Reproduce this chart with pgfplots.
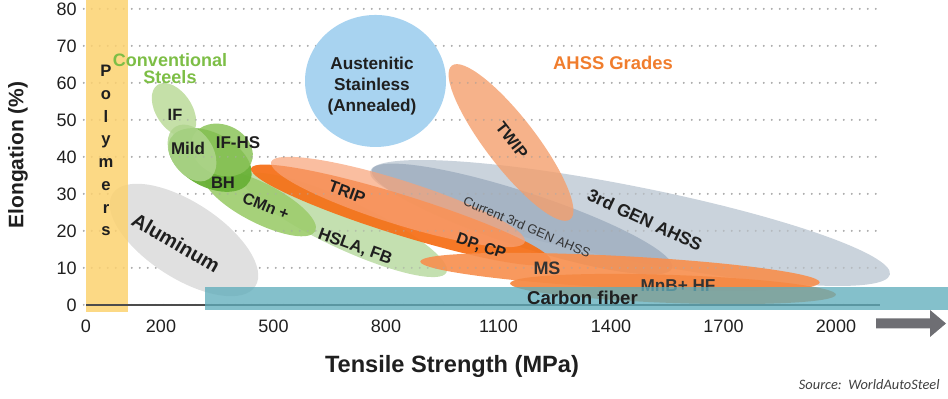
\documentclass[border=0pt]{standalone}
\usepackage{pgfplots}
\pgfplotsset{compat=1.18}
\usepackage{fontspec}
\setmainfont{Liberation Sans}
\newfontfamily\srcfont{Carlito}
\definecolor{polyc}{HTML}{FCD270}
\definecolor{alumc}{HTML}{E0E0E0}
\definecolor{austc}{HTML}{A8D3F0}
\definecolor{genc}{HTML}{C4CED8}
\definecolor{curc}{HTML}{A2B1C2}
\definecolor{twipc}{HTML}{F49F6D}
\definecolor{hslac}{HTML}{BEDDA7}
\definecolor{cmnc}{HTML}{9ECD6F}
\definecolor{ifc}{HTML}{C0DDA1}
\definecolor{bhc}{HTML}{6AB238}
\definecolor{ifhsc}{HTML}{8CC45A}
\definecolor{mildc}{HTML}{B0D68E}
\definecolor{dpc}{HTML}{F5711A}
\definecolor{tripc}{HTML}{F8A277}
\definecolor{msc}{HTML}{F79050}
\definecolor{mnbc}{HTML}{F58A45}
\definecolor{carbc}{HTML}{5FADBB}
\definecolor{convc}{HTML}{7DBE46}
\definecolor{ahssc}{HTML}{F07D2D}
\definecolor{arrowc}{HTML}{6E6E73}
\definecolor{txtc}{HTML}{1F1F1F}
\newcommand\region[7]{\fill[#6, fill opacity=#7, rotate around={#5:(axis cs:#1,#2)}] (axis cs:#1,#2) ellipse [x radius=#3pt, y radius=#4pt];}
\begin{document}
\begin{tikzpicture}
\path[use as bounding box] (0,0) rectangle (474pt,199.5pt);
\begin{axis}[
  at={(41.875pt,43.115pt)}, anchor=south west,
  scale only axis, width=398.625pt, height=156.325pt,
  xmin=-6, xmax=2120, ymin=-2.1, ymax=82.4,
  axis line style={draw=none},
  major tick length=0pt,
  xtick={0,200,500,800,1100,1400,1700,2000},
  xticklabels={0,200,500,800,1100,1400,1700,2000},
  ytick={0,10,20,30,40,50,60,70,80},
  yticklabels={0,10,20,30,40,50,60,70,80},
  tick label style={font=\fontsize{9}{10}\selectfont, text=txtc},
  ymajorgrids,
  major grid style={draw=black!33, line width=1pt, dash pattern=on 0pt off 4pt, line cap=round},
  clip=false,
]
% 3rd GEN AHSS
\region{1450.67}{22.16}{132.5}{18.5}{-11.2}{genc}{0.9}
% Current 3rd GEN
\region{1162.67}{23.24}{79}{13.5}{-18.1}{curc}{0.9}
% TWIP
\region{1133.33}{43.92}{48.5}{12.5}{-52.4}{twipc}{0.8}
% HSLA, FB
\region{690.67}{21.62}{56}{12}{-25}{hslac}{0.9}
% CMn
\region{464}{27.57}{31}{10}{-27}{cmnc}{0.92}
% IF
\region{234.67}{52.70}{15}{9}{-57}{ifc}{0.92}
% BH
\region{330.67}{39.19}{22.5}{13.5}{-28}{bhc}{0.97}
% IF-HS
\region{362.67}{41.89}{16}{12.5}{-25}{ifhsc}{0.85}
% Mild
\region{282.67}{41.08}{15.5}{10.5}{-57}{mildc}{0.85}
% DP, CP
\region{840}{24.32}{78.5}{10}{-17.3}{dpc}{0.95}
% TRIP
\region{832}{27.84}{66.5}{11}{-17.5}{tripc}{0.7}
% MS
\region{1424}{8.92}{100}{8}{-3}{msc}{0.92}
% MnB+ HF
\region{1565.33}{4.32}{81.5}{7}{-2}{mnbc}{0.95}
% grid dots showing through the translucent regions
\pgfplotsinvokeforeach{10,20,30,40,50,60,70,80}{
  \draw[black!33, line width=1pt, dash pattern=on 0pt off 4pt, line cap=round, draw opacity=0.55] (axis cs:-6,#1) -- (axis cs:2120,#1);
}
% Austenitic stainless
\region{772}{60.54}{35.25}{33}{0}{austc}{1}
% Aluminum
\region{261.33}{17.57}{42.5}{19}{-33}{alumc}{1}
% Polymers band
\fill[polyc, fill opacity=0.85] (axis cs:0,-1.8) rectangle (axis cs:112,82.4);
% x axis line
\draw[black!70, line width=0.8pt] (axis cs:0,0) -- (axis cs:2117,0);
% labels under band
\node[font=\bfseries\fontsize{9}{10}\selectfont, text=black!80] at (axis cs:1229.33,9.86) {MS};
\node[font=\bfseries\fontsize{8.6}{10}\selectfont, text=black!80] at (axis cs:1578.67,5.14) {MnB+ HF};
% Carbon fiber band
\fill[carbc, fill opacity=0.77] (axis cs:317.33,-1.35) rectangle (axis cs:2298.67,4.86);
\node[font=\bfseries\fontsize{9.3}{10}\selectfont, text=txtc] at (axis cs:1324,2.03) {Carbon fiber};
% other labels
\node[anchor=north, inner sep=0pt, align=center, font=\bfseries\fontsize{8.3}{11.35}\selectfont, text=txtc] at (axis cs:53.33,64.86) {P\\o\\l\\y\\m\\e\\r\\s};
\node[align=center, font=\bfseries\fontsize{9}{8.3}\selectfont, text=convc] at (axis cs:224,63.92) {Conventional\\Steels};
\node[font=\bfseries\fontsize{8.2}{10}\selectfont, text=txtc] at (axis cs:237.33,51.35) {IF};
\node[font=\bfseries\fontsize{8.5}{10}\selectfont, text=txtc] at (axis cs:272,42.43) {Mild};
\node[font=\bfseries\fontsize{8.5}{10}\selectfont, text=txtc] at (axis cs:405.33,43.78) {IF-HS};
\node[font=\bfseries\fontsize{8.3}{10}\selectfont, text=txtc] at (axis cs:365.33,32.97) {BH};
\node[rotate=-22, font=\bfseries\fontsize{8}{10}\selectfont, text=txtc] at (axis cs:480,26.76) {CMn +};
\node[rotate=-20, font=\bfseries\fontsize{8.4}{10}\selectfont, text=txtc] at (axis cs:717.33,15.68) {HSLA, FB};
\node[rotate=-30, font=\bfseries\fontsize{10}{12}\selectfont, text=txtc] at (axis cs:240,16.76) {Aluminum};
\node[align=center, font=\bfseries\fontsize{8.6}{10.5}\selectfont, text=txtc] at (axis cs:762.67,59.19) {Austenitic\\Stainless\\(Annealed)};
\node[rotate=-52, font=\bfseries\fontsize{8.2}{10}\selectfont, text=txtc] at (axis cs:1136,44.59) {TWIP};
\node[rotate=-20, font=\bfseries\fontsize{8.3}{10}\selectfont, text=txtc] at (axis cs:696,30.54) {TRIP};
\node[rotate=-19, font=\bfseries\fontsize{8}{10}\selectfont, text=txtc] at (axis cs:1053.33,15.68) {DP, CP};
\node[rotate=-23, font=\fontsize{6.5}{8}\selectfont, text=black!80] at (axis cs:1176,21.08) {Current 3rd GEN AHSS};
\node[rotate=-25, font=\bfseries\fontsize{8.8}{10}\selectfont, text=txtc] at (axis cs:1490.67,22.97) {3rd GEN AHSS};
\node[font=\bfseries\fontsize{9.2}{10}\selectfont, text=ahssc] at (axis cs:1405.33,65.54) {AHSS Grades};
\end{axis}
\begin{scope}[x=0.5pt, y=-0.5pt, shift={(0pt,199.5pt)}]
\node[rotate=90, font=\bfseries\fontsize{10.5}{12}\selectfont, text=txtc] at (18,155) {Elongation (\%)};
\node[font=\bfseries\fontsize{11.8}{13}\selectfont, text=txtc] at (452,366) {Tensile Strength (MPa)};
\node[anchor=east, inner sep=0pt, font=\srcfont\itshape\fontsize{7.2}{8}\selectfont, text=black!75] at (940,385) {Source:\ \ WorldAutoSteel};
\fill[arrowc] (876,318.5) -- (930,318.5) -- (930,310) -- (946,323.5) -- (930,337) -- (930,328.5) -- (876,328.5) -- cycle;
\end{scope}
\end{tikzpicture}
\end{document}
